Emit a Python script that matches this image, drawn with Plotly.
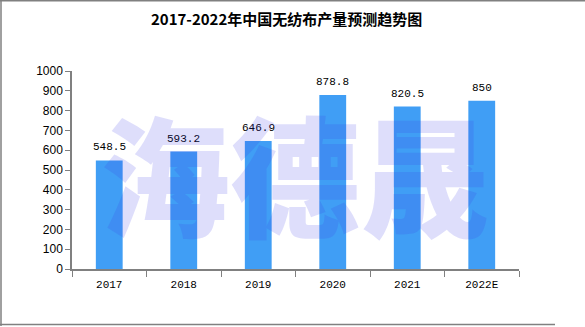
import plotly.graph_objects as go

years = ["2017", "2018", "2019", "2020", "2021", "2022E"]
output = [548.5, 593.2, 646.9, 878.8, 820.5, 850]
labels = ["548.5", "593.2", "646.9", "878.8", "820.5", "850"]
title_text = "2017-2022年中国无纺布产量预测趋势图"
watermark = "海德晟"

fig = go.Figure()
fig.add_trace(go.Bar(
    x=years, y=output,
    marker=dict(color="rgb(64,158,245)", line=dict(width=0)),
    width=0.36,
))

for i, (yv, lb) in enumerate(zip(output, labels)):
    fig.add_annotation(
        x=i, y=yv, xref="x", yref="y", text=lb, showarrow=False, yanchor="bottom", yshift=5,
        font=dict(family="Liberation Mono", size=11, color="#000000"),
    )

fig.update_layout(
    width=585, height=327,
    margin=dict(l=72, r=66, t=71, b=58),
    paper_bgcolor="white", plot_bgcolor="white",
    showlegend=False,
    title=dict(text="<b>" + title_text + "</b>", x=0.49, xanchor="center",
               y=1 - 20 / 327, yanchor="middle",
               font=dict(family="Noto Sans CJK SC", size=15, color="#000000")),
    font=dict(family="Liberation Mono", size=11, color="#000000"),
)
fig.update_xaxes(
    type="category", categoryarray=years, categoryorder="array",
    showline=True, linecolor="rgb(128,128,128)", linewidth=2,
    ticks="outside", tickson="boundaries", ticklen=6, tickcolor="rgb(128,128,128)",
    ticklabelstandoff=4,
    showgrid=False, tickfont=dict(family="Liberation Mono", size=11, color="#000000"),
)
fig.update_yaxes(
    range=[0, 1000], dtick=100, showline=True, linecolor="rgb(128,128,128)", linewidth=1.5,
    ticks="outside", ticklen=5, tickcolor="rgb(128,128,128)", showgrid=False, zeroline=False,
    tickfont=dict(family="Liberation Sans", size=12, color="#000000"),
)

# watermark
fig.add_annotation(
    text=watermark, xref="paper", yref="paper",
    x=(295 - 72) / 447, y=(269 - 170) / 198, xanchor="center", yanchor="middle",
    showarrow=False,
    font=dict(family="Noto Sans CJK SC", size=130, color="rgba(60,60,230,0.17)", weight=900),
)

# frame lines
frame = dict(type="line", xref="paper", yref="paper", line=dict(color="rgb(128,128,128)", width=1.5))
px_x = lambda v: (v - 72) / 447
px_y = lambda v: (269 - v) / 198
fig.add_shape(**frame, x0=px_x(1), x1=px_x(1), y0=px_y(0), y1=px_y(326))
fig.add_shape(**frame, x0=px_x(0), x1=px_x(585), y0=px_y(0.75), y1=px_y(0.75))
fig.add_shape(**frame, x0=px_x(0), x1=px_x(555), y0=px_y(324.5), y1=px_y(324.5))

fig.write_html("out.html")
